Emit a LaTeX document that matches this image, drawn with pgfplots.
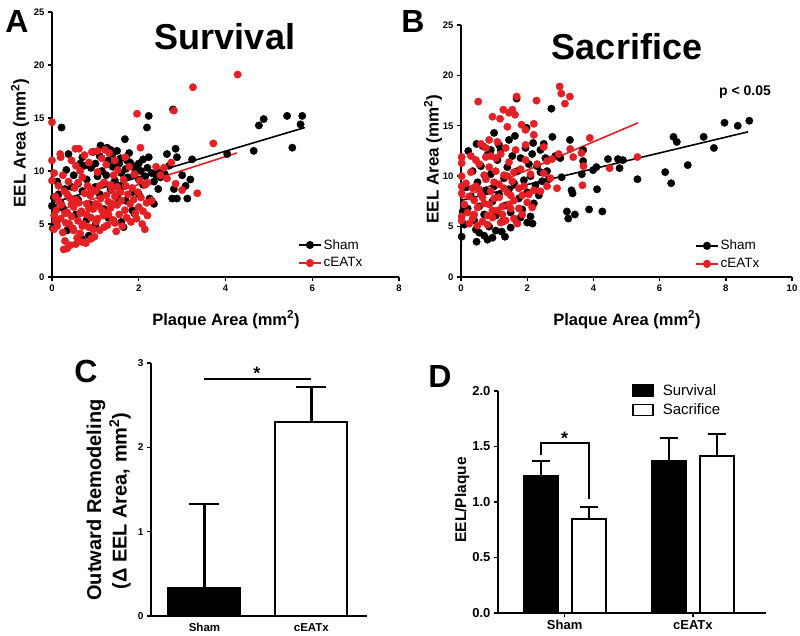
\documentclass[border=0pt]{standalone}
\usepackage{pgfplots}
\pgfplotsset{compat=1.18}
\usepackage{fontspec}
\setmainfont{Liberation Sans}
\definecolor{myred}{RGB}{228,32,36}
\pgfplotsset{
  gp/.style={
    scale only axis,
    axis x line*=bottom, axis y line*=left,
    axis line style={line width=1.7pt,-},
    tick style={line width=1.4pt,black},
    tick align=outside,
    major tick length=4pt,
    /pgf/number format/assume math mode=true,
    tick label style={font=\bfseries\fontsize{9.5}{10}\selectfont},
    clip=false,
  },
  scat/.style={only marks, mark=*, mark size=3.7pt, forget plot},
  lineleg/.style={legend image code/.code={\draw[##1, mark repeat=2, mark phase=2] plot coordinates {(0pt,0pt) (11pt,0pt) (22pt,0pt)};}},
  ebar/.style={error bars/y dir=plus, error bars/y explicit,
    error bars/error bar style={line width=2.2pt, black},
    error bars/error mark options={rotate=90, mark size=#1, line width=2.2pt, black}},
  every error bar/.append style={line width=2.2pt},
}
\begin{document}
\begin{tikzpicture}
\useasboundingbox (0,0) rectangle (800pt,-636pt);
% ---------------- Panel A ----------------
\begin{axis}[gp, at={(52pt,-277pt)}, anchor=south west, width=347pt, height=265pt,
  xmin=0, xmax=8, ymin=0, ymax=25, xtick={0,2,4,6,8}, ytick={0,5,10,15,20,25},
  lineleg, legend cell align=left,
  legend style={at={(0.709,0.024)}, anchor=south west, draw=none, fill=none,
    font=\fontsize{13.5}{14}\selectfont, row sep=3pt, inner sep=0pt}]
\addlegendimage{black, line width=1.5pt, mark=*, mark size=3.3pt}
\addlegendentry{Sham}
\addlegendimage{myred, line width=1.5pt, mark=*, mark size=3.3pt}
\addlegendentry{cEATx}
\addplot[scat, black] coordinates {
(0.22,14.1) (2.79,15.8) (2.23,15.2) (2.19,14.1) (1.68,13.0) (1.27,12.2) (0.38,11.6) (5.77,15.2) (5.73,14.4) (5.42,15.2) (5.54,12.2) (4.88,14.9) (4.77,14.3) (4.65,11.9) (4.04,11.6) (3.23,11.1) (2.85,12.1) (2.88,11.3) (2.65,11.6) (3.0,9.6) (3.19,9.2) (3.08,8.6) (3.12,7.4) (2.81,8.3) (2.77,7.4) (2.88,7.4) (2.35,6.9) (2.23,11.3) (2.0,10.7) (1.9,10.3) (1.73,11.0) (0.04,7.5) (0.04,6.6) (0.0,6.7) (0.65,10.7) (0.35,4.4) (0.42,4.6) (0.85,3.9) (0.69,3.6) (1.65,4.7) (1.42,5.3) (0.02,4.6) (0.1,5.0)
(0.5,9.6) (0.6,8.8) (0.7,8.1) (0.8,9.2) (0.9,10.3) (1.0,8.5) (1.05,9.5) (1.1,7.8) (1.15,10.0) (1.2,8.9) (1.25,9.6) (1.3,11.0) (1.35,8.3) (1.4,10.4) (1.45,9.1) (1.5,7.6) (1.55,10.7) (1.6,9.8) (1.62,8.6) (1.7,10.2) (1.75,9.4) (1.8,10.8) (1.85,8.0) (1.9,9.7) (1.95,10.5) (2.0,9.2) (2.05,10.0) (2.1,8.7) (2.15,9.5) (2.2,10.3) (2.3,9.8) (2.35,9.0) (2.4,9.6) (2.45,9.9) (2.5,9.4) (2.6,9.7) (2.7,10.5) (1.1,11.4) (0.95,11.8) (1.4,11.6) (1.58,11.2) (1.35,12.0) (0.75,10.5) (0.45,8.5) (0.3,8.3) (0.2,7.0) (0.25,6.5) (0.15,7.8) (0.6,7.3) (0.9,6.8) (1.2,6.4) (1.5,6.9) (1.7,7.2) (1.85,6.3) (2.0,7.8) (0.55,5.9) (0.8,5.4) (1.0,4.9) (1.3,5.6) (1.6,5.2) (1.9,6.0) (2.25,7.4) (2.45,8.3) (1.78,11.7) (1.12,12.4) (0.33,10.1) (0.12,9.0) (0.7,11.3) (1.0,10.7) (1.5,11.9) (2.1,11.1)
};
\addplot[scat, myred] coordinates {
(0,14.6) (0,11.0) (0,9.1) (0.19,11.6) (1.96,15.4) (2.04,12.2) (2.81,15.7) (3.25,17.9) (4.28,19.1) (3.72,12.6) (3.35,7.9) (3.0,8.2) (2.85,8.8) (2.14,4.5) (0.27,2.6) (0.04,4.5) (0.08,5.3) (0.54,12.1) (1.69,11.3) (2.3,7.2) (2.58,10.3) (2.75,10.8) (2.5,9.6) (2.4,10.4) (2.2,8.9) (2.65,9.3)
(0.05,5.8) (0.1,6.3) (0.12,4.8) (0.15,7.2) (0.2,5.5) (0.22,6.8) (0.25,4.2) (0.28,8.1) (0.3,3.4) (0.32,5.1) (0.35,6.1) (0.38,9.0) (0.4,7.5) (0.42,3.0) (0.45,5.7) (0.48,4.6) (0.5,6.6) (0.52,8.4) (0.55,10.5) (0.58,3.7) (0.6,5.3) (0.62,7.0) (0.65,4.1) (0.68,6.2) (0.7,9.4) (0.72,5.0) (0.75,11.5) (0.78,3.2) (0.8,6.9) (0.82,8.6) (0.85,4.7) (0.88,7.7) (0.9,5.6) (0.92,11.8) (0.95,6.4) (0.98,3.8) (1.0,8.1) (1.02,5.2) (1.05,9.9) (1.08,6.7) (1.1,4.4) (1.12,7.4) (1.15,11.2) (1.18,5.8) (1.2,8.9) (1.22,6.1) (1.25,10.6) (1.28,4.9) (1.3,7.1) (1.32,11.7) (1.35,6.5) (1.38,8.3) (1.4,5.4) (1.42,9.6) (1.45,7.6) (1.48,4.3) (1.5,6.8) (1.52,10.1) (1.55,5.9) (1.58,8.0) (1.6,7.2) (1.62,4.8) (1.65,9.2) (1.68,6.3) (1.7,8.6) (1.72,5.6) (1.75,7.8) (1.78,10.4) (1.8,6.9) (1.82,5.2) (1.85,8.4) (1.88,7.3) (1.9,9.7) (1.92,6.0) (1.95,5.5) (1.98,8.0) (2.0,6.6) (2.02,9.1) (2.05,7.5) (2.08,5.0) (2.1,6.2) (2.15,8.7) (2.18,7.0) (2.2,5.8)
(0.3,6.0) (0.35,7.8) (0.4,5.0) (0.45,6.9) (0.5,4.4) (0.55,7.3) (0.6,8.9) (0.65,6.0) (0.7,4.8) (0.75,7.9) (0.8,5.9) (0.85,6.5) (0.9,8.3) (0.95,4.5) (1.0,6.9) (1.05,5.5) (1.1,8.6) (1.15,6.3) (1.2,4.7) (1.25,7.7) (1.3,5.9) (1.35,8.7) (1.4,6.9) (1.45,5.1) (1.5,8.5) (0.25,9.6) (0.45,11.0) (0.65,10.0) (0.85,10.8) (1.05,11.9) (0.2,11.3) (0.62,12.1) (1.22,12.0) (1.45,11.0) (0.15,8.6) (0.05,9.8) (0.08,7.6) (0.35,2.7) (0.55,3.1) (0.7,3.3) (0.9,3.6)
};
\addplot[black, line width=1.6pt, forget plot] coordinates {(0,7.0) (5.83,14.1)};
\addplot[myred, line width=1.6pt, forget plot] coordinates {(0,6.1) (4.26,11.7)};
\end{axis}
% ---------------- Panel B ----------------
\begin{axis}[gp, at={(461pt,-277pt)}, anchor=south west, width=331pt, height=252pt,
  xmin=0, xmax=10, ymin=0, ymax=25, xtick={0,2,4,6,8,10}, ytick={0,5,10,15,20,25},
  lineleg, legend cell align=left,
  legend style={at={(0.707,0.022)}, anchor=south west, draw=none, fill=none,
    font=\fontsize{13.5}{14}\selectfont, row sep=3pt, inner sep=0pt}]
\addlegendimage{black, line width=1.5pt, mark=*, mark size=3.3pt}
\addlegendentry{Sham}
\addlegendimage{myred, line width=1.5pt, mark=*, mark size=3.3pt}
\addlegendentry{cEATx}
\addplot[scat, black] coordinates {
(8.71,15.5) (8.36,15.0) (7.96,15.3) (7.33,13.9) (7.64,12.8) (6.85,11.1) (6.42,13.9) (6.52,13.4) (6.17,10.4) (6.35,9.3) (5.33,9.7) (4.89,11.6) (4.74,11.7) (4.79,10.8) (4.44,11.7) (4.09,10.9) (3.99,10.6) (4.11,8.7) (4.27,6.5) (3.87,6.7) (3.44,6.2) (3.2,6.5) (3.24,5.8) (3.34,8.6) (3.37,8.3) (3.29,13.6) (3.04,9.9) (3.69,12.6) (3.69,11.5) (3.65,10.2) (2.76,13.9) (2.73,16.7) (1.68,17.7) (1.63,14.0) (1.98,14.8) (2.18,13.3) (0.02,4.0) (0.47,3.5) (0.8,3.7) (0.95,3.9) (1.23,4.5) (1.33,4.0) (0.55,4.4) (2.16,5.3) (2.1,6.0) (0.22,12.5) (0.47,13.2) (1.0,14.3) (2.5,13.2) (2.4,12.6) (3.0,11.8) (2.6,10.5) (2.85,12.0)
(0.1,5.2) (0.2,6.8) (0.3,8.0) (0.4,5.6) (0.5,9.4) (0.55,7.0) (0.6,11.0) (0.7,6.2) (0.75,8.6) (0.8,12.1) (0.85,5.0) (0.9,10.2) (0.95,7.5) (1.0,9.0) (1.05,6.1) (1.1,11.6) (1.15,8.2) (1.2,12.6) (1.25,5.5) (1.3,9.8) (1.35,7.1) (1.4,10.9) (1.45,8.7) (1.5,6.4) (1.55,12.0) (1.6,9.3) (1.65,5.7) (1.7,10.5) (1.75,7.8) (1.8,11.8) (1.85,6.7) (1.9,9.6) (1.95,12.8) (2.0,8.4) (2.05,11.2) (2.1,10.0) (2.15,12.2) (2.2,7.3) (2.25,9.1) (2.3,11.0) (2.35,8.1) (2.4,10.4) (2.45,9.5) (2.55,11.8) (2.65,9.7) (1.15,13.1) (0.65,13.0) (0.35,10.5) (0.15,8.9) (0.05,6.5) (0.45,4.7) (0.7,4.1) (1.05,4.6) (1.5,4.9) (1.8,5.9) (2.0,5.4) (1.45,13.6) (0.9,12.6)
};
\addplot[scat, myred] coordinates {
(2.98,18.9) (3.03,18.2) (3.29,17.9) (3.14,17.2) (0.52,17.4) (2.28,17.5) (1.68,17.9) (1.28,16.6) (1.55,16.6) (1.63,16.1) (1.18,15.7) (1.4,14.9) (1.83,15.1) (1.45,16.3) (1.95,14.6) (3.89,13.8) (5.33,11.9) (4.49,10.8) (3.67,9.1) (3.39,11.9) (3.64,12.3) (3.7,11.0) (3.3,12.7) (0.02,11.9) (0.02,11.3) (0.02,10.0) (0.02,8.3) (0.02,9.0) (0.02,6.0) (0.02,5.6) (2.9,8.8) (2.6,9.0) (2.75,11.7) (2.95,12.2) (2.5,12.9) (2.2,14.1) (2.2,15.2) (0.95,15.9) (0.85,13.6) (0.75,12.8)
(0.1,7.2) (0.15,9.3) (0.2,6.4) (0.25,8.0) (0.3,10.4) (0.35,5.8) (0.4,7.6) (0.45,9.0) (0.5,6.9) (0.55,11.2) (0.6,8.2) (0.65,5.5) (0.7,7.3) (0.75,9.7) (0.8,6.1) (0.85,10.9) (0.9,8.5) (0.95,5.9) (1.0,7.8) (1.05,11.8) (1.1,6.6) (1.15,9.2) (1.2,12.2) (1.25,7.0) (1.3,10.1) (1.35,5.6) (1.4,8.4) (1.45,11.4) (1.5,6.8) (1.55,9.5) (1.6,7.6) (1.65,12.6) (1.7,5.3) (1.75,8.8) (1.8,10.7) (1.85,6.2) (1.9,9.0) (1.95,11.6) (2.0,7.4) (2.05,8.2) (2.1,10.2) (2.15,6.9) (2.2,8.6) (2.3,11.2) (2.4,8.5) (2.5,10.3) (2.6,11.5) (2.7,9.8) (0.3,12.0) (0.6,13.2) (0.9,12.0) (1.1,13.4) (1.35,12.8) (0.5,5.1) (0.8,5.2) (1.2,5.4) (1.6,5.8) (0.25,5.3) (0.4,6.2) (0.55,8.7) (0.7,10.1) (0.85,7.2) (1.0,9.4) (1.15,7.9) (1.3,8.8) (1.45,7.2) (1.6,10.4) (1.75,6.8) (0.65,7.9) (0.95,6.6) (1.25,6.2) (1.5,8.1) (1.05,10.5) (0.45,11.6) (0.75,11.9) (0.35,8.8) (1.85,8.1) (1.4,10.0) (1.95,13.1)
};
\addplot[black, line width=1.6pt, forget plot] coordinates {(0,7.6) (8.67,14.4)};
\addplot[myred, line width=1.6pt, forget plot] coordinates {(0,7.8) (5.35,15.3)};
\end{axis}
% ---------------- Panel C ----------------
\begin{axis}[gp, at={(151pt,-616pt)}, anchor=south west, width=216pt, height=253pt,
  xmin=-0.5, xmax=1.52, ymin=0, ymax=3, ytick={0,1,2,3},
  xtick={0,1}, xticklabels={Sham,cEATx}, xtick style={draw=none},
  x tick label style={font=\bfseries\fontsize{11.5}{12}\selectfont},
  y tick label style={font=\bfseries\fontsize{10}{10}\selectfont}]
\addplot[ybar, bar width=72pt, bar shift=0pt, fill=black, draw=black, line width=2pt, ebar=15pt]
  coordinates {(0,0.33) +- (0,1.0)};
\addplot[ybar, bar width=72pt, bar shift=0pt, fill=white, draw=black, line width=2pt, ebar=15pt]
  coordinates {(1,2.3) +- (0,0.42)};
\draw[line width=2pt] (axis cs:0,2.81) -- (axis cs:1,2.81);
\node[font=\bfseries\fontsize{18}{18}\selectfont, anchor=base] at (axis cs:0.49,2.80) {*};
\end{axis}
% ---------------- Panel D ----------------
\begin{axis}[gp, at={(498pt,-613pt)}, anchor=south west, width=268pt, height=222pt,
  xmin=-0.52, xmax=1.57, ymin=0, ymax=2, ytick={0,0.5,1,1.5,2},
  yticklabel style={/pgf/number format/.cd, fixed, fixed zerofill, precision=1},
  xtick={0,1}, xticklabels={Sham,cEATx},
  tick label style={font=\bfseries\fontsize{13}{13}\selectfont},
  legend cell align=left,
  legend style={at={(0.50,1.04)}, anchor=north west, draw=none, fill=none,
    font=\fontsize{15}{16}\selectfont, row sep=3pt, inner sep=0pt}]
\addlegendimage{legend image code/.code={\draw[fill=black, draw=black, line width=1.6pt] (0pt,-5.5pt) rectangle (20pt,5.5pt);}}
\addlegendentry{\hspace{7pt}Survival}
\addlegendimage{legend image code/.code={\draw[fill=white, draw=black, line width=1.6pt] (0pt,-5.5pt) rectangle (20pt,5.5pt);}}
\addlegendentry{\hspace{7pt}Sacrifice}
% Survival bars at group position - 0.1875, Sacrifice at + 0.1875
\addplot[ybar, bar width=34pt, bar shift=0pt, fill=black, draw=black, line width=2pt, forget plot, ebar=9pt]
  coordinates {(-0.1875,1.237) +- (0,0.133) (0.8125,1.372) +- (0,0.205)};
\addplot[ybar, bar width=34pt, bar shift=0pt, fill=white, draw=black, line width=2pt, forget plot, ebar=9pt]
  coordinates {(0.1875,0.844) +- (0,0.113) (1.1875,1.414) +- (0,0.196)};
\draw[line width=2pt] (axis cs:-0.1875,1.42) -- (axis cs:-0.1875,1.53) -- (axis cs:0.1875,1.53) -- (axis cs:0.1875,1.03);
\node[font=\bfseries\fontsize{18}{18}\selectfont, anchor=base] at (axis cs:0,1.52) {*};
\end{axis}
% ---------------- Text ----------------
\node[font=\bfseries\fontsize{32}{32}\selectfont, anchor=base] at (17pt,-33pt) {A};
\node[font=\bfseries\fontsize{32}{32}\selectfont, anchor=base] at (413pt,-33pt) {B};
\node[font=\bfseries\fontsize{32}{32}\selectfont, anchor=base] at (86pt,-382pt) {C};
\node[font=\bfseries\fontsize{32}{32}\selectfont, anchor=base] at (440pt,-387pt) {D};
\node[font=\bfseries\fontsize{36}{36}\selectfont, anchor=base] at (225pt,-50pt) {Survival};
\node[font=\bfseries\fontsize{36}{36}\selectfont, anchor=base] at (627pt,-60pt) {Sacrifice};
\node[font=\bfseries\fontsize{14}{14}\selectfont, anchor=base] at (745pt,-96pt) {p < 0.05};
\node[font=\bfseries\fontsize{17}{17}\selectfont, rotate=90] at (20pt,-143pt) {EEL Area (mm\textsuperscript{2})};
\node[font=\bfseries\fontsize{17}{17}\selectfont, rotate=90] at (433pt,-159pt) {EEL Area (mm\textsuperscript{2})};
\node[font=\bfseries\fontsize{16.5}{17}\selectfont, anchor=base] at (226pt,-325pt) {Plaque Area (mm\textsuperscript{2})};
\node[font=\bfseries\fontsize{16.5}{17}\selectfont, anchor=base] at (627pt,-325pt) {Plaque Area (mm\textsuperscript{2})};
\node[font=\bfseries\fontsize{20}{20}\selectfont, rotate=90] at (96pt,-500pt) {Outward Remodeling};
\node[font=\bfseries\fontsize{20}{20}\selectfont, rotate=90] at (120pt,-501pt) {(Δ EEL Area, mm\textsuperscript{2})};
\node[font=\bfseries\fontsize{15.5}{16}\selectfont, rotate=90] at (462pt,-500pt) {EEL/Plaque};
\end{tikzpicture}
\end{document}
